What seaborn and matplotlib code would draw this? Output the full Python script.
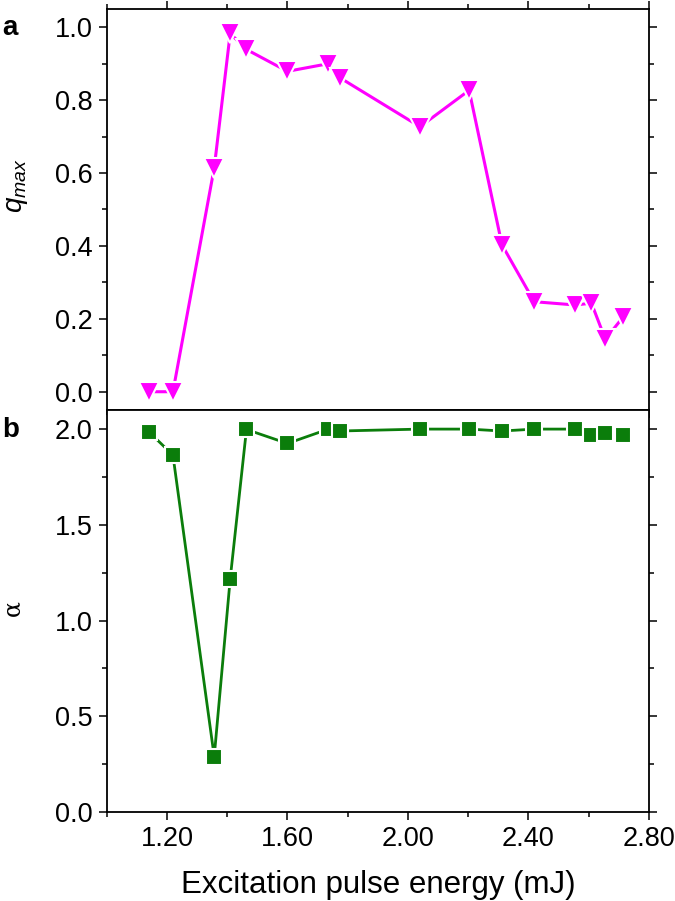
import numpy as np
import seaborn as sns
import matplotlib.pyplot as plt
from matplotlib.ticker import MultipleLocator

# excitation pulse energy (mJ), shared by both panels
energy = [1.14, 1.22, 1.357, 1.41, 1.464, 1.60, 1.736, 1.773, 2.04, 2.203,
          2.312, 2.419, 2.555, 2.609, 2.655, 2.715]
q_max = [0.0, 0.0, 0.614, 0.983, 0.939, 0.879, 0.900, 0.862, 0.727, 0.827,
         0.403, 0.247, 0.238, 0.243, 0.144, 0.206]
alpha = [1.986, 1.864, 0.289, 1.217, 1.998, 1.925, 2.0, 1.99, 2.0, 2.0,
         1.99, 2.0, 2.0, 1.97, 1.98, 1.97]
x_ticks = [1.20, 1.60, 2.00, 2.40, 2.80]
x_labels = ['1.20', '1.60', '2.00', '2.40', '2.80']
qa_ticks = [0.0, 0.2, 0.4, 0.6, 0.8, 1.0]
al_ticks = [0.0, 0.5, 1.0, 1.5, 2.0]

sns.set_theme(style='ticks')
plt.rcParams['font.family'] = ['Liberation Sans', 'DejaVu Sans']
plt.rcParams['mathtext.fontset'] = 'custom'
plt.rcParams['mathtext.it'] = 'Liberation Sans:italic'
plt.rcParams['mathtext.rm'] = 'Liberation Sans'
for k in ('text.color', 'axes.labelcolor', 'xtick.color', 'ytick.color', 'axes.edgecolor'):
    plt.rcParams[k] = 'black'

fig = plt.figure(figsize=(6.75, 9.01), dpi=100)
a = fig.add_axes([0.158, 0.545, 0.8035, 0.445])
b = fig.add_axes([0.158, 0.0988, 0.8035, 0.4462])

sns.lineplot(x=energy, y=q_max, ax=a, color='#ff00ff', marker='v', markersize=15,
             markeredgecolor='white', markeredgewidth=1.5, linewidth=2.2)
sns.lineplot(x=energy, y=alpha, ax=b, color='#0b7d0b', marker='s', markersize=11.5,
             markeredgecolor='white', markeredgewidth=1.5, linewidth=2.0)

for ax in (a, b):
    ax.set_xlim(1.0, 2.8)
    ax.set_xticks(x_ticks)
    ax.xaxis.set_minor_locator(MultipleLocator(0.2))
    ax.tick_params(which='both', direction='out', right=True,
                   labelsize=19.5, width=1.1, pad=4)
    ax.tick_params(which='major', length=6)
    ax.tick_params(which='minor', length=3.5)
    for s in ax.spines.values():
        s.set_linewidth(1.3)

a.tick_params(which='both', top=True)
a.set_ylim(-0.05, 1.05)
a.set_yticks(qa_ticks)
a.set_yticklabels(['%.1f' % v for v in qa_ticks])
a.yaxis.set_minor_locator(MultipleLocator(0.1))
a.tick_params(labelbottom=False)
a.set_ylabel(r'$q_{max}$', fontsize=20)
a.yaxis.set_label_coords(-0.141, 0.56)

b.set_ylim(0.0, 2.1)
b.set_yticks(al_ticks)
b.set_yticklabels(['%.1f' % v for v in al_ticks])
b.yaxis.set_minor_locator(MultipleLocator(0.25))
b.set_xticklabels(x_labels)
b.set_ylabel('α', fontsize=17, family=['DejaVu Serif'])
b.yaxis.set_label_coords(-0.152, 0.507)
b.set_xlabel('Excitation pulse energy (mJ)', fontsize=22.5, labelpad=13)

fig.text(0.003, 0.961, 'a', fontsize=20, fontweight='bold')
fig.text(0.003, 0.515, 'b', fontsize=20, fontweight='bold')

fig.savefig('out.png', dpi=100)
